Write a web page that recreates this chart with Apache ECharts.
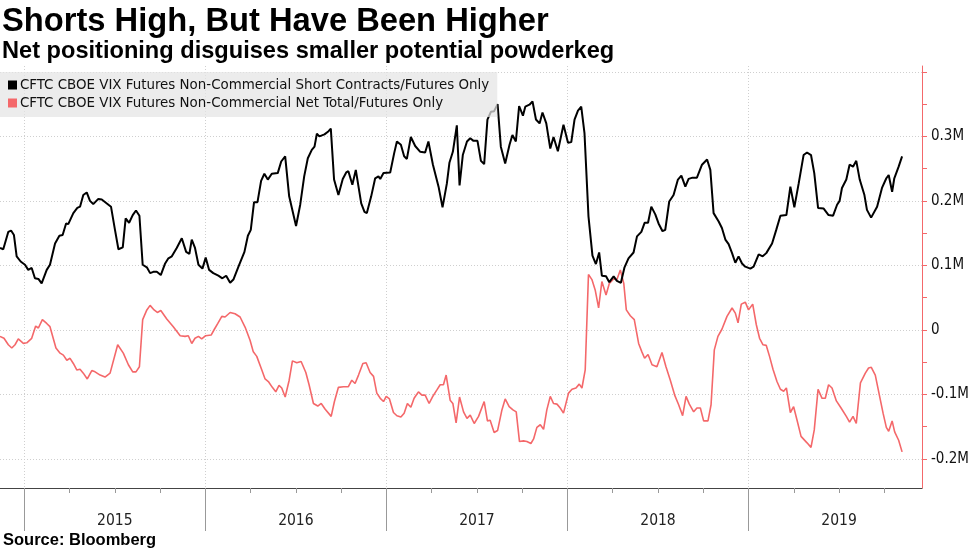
<!DOCTYPE html>
<html><head><meta charset="utf-8">
<script src="https://cdn.jsdelivr.net/npm/echarts@6/dist/echarts.min.js"></script>
<style>html,body{margin:0;padding:0;background:#fff}#c{width:977px;height:549px}</style>
</head><body><div id="c"></div>
<script>
// time in decimal years, values in thousands of contracts
const shortDates = [
2014.866,2014.884,2014.912,2014.927,2014.943,2014.958,2014.980,2015.004,2015.022,2015.041,
2015.059,2015.078,2015.096,2015.124,2015.142,2015.170,2015.194,2015.212,2015.231,2015.243,
2015.271,2015.293,2015.308,2015.326,2015.345,2015.363,2015.381,2015.409,2015.428,2015.456,
2015.479,2015.501,2015.520,2015.544,2015.560,2015.579,2015.599,2015.617,2015.636,2015.654,
2015.677,2015.695,2015.713,2015.732,2015.754,2015.778,2015.796,2015.815,2015.842,2015.870,
2015.894,2015.912,2015.925,2015.943,2015.962,2015.984,2016.002,2016.021,2016.044,2016.072,
2016.094,2016.115,2016.137,2016.155,2016.183,2016.216,2016.235,2016.251,2016.269,2016.288,
2016.308,2016.326,2016.345,2016.367,2016.400,2016.419,2016.441,2016.463,2016.501,2016.524,
2016.546,2016.566,2016.588,2016.603,2016.616,2016.630,2016.658,2016.677,2016.693,2016.711,
2016.735,2016.759,2016.778,2016.790,2016.812,2016.831,2016.861,2016.879,2016.892,2016.916,
2016.938,2016.956,2016.966,2016.984,2017.021,2017.043,2017.058,2017.080,2017.098,2017.113,
2017.135,2017.159,2017.187,2017.214,2017.232,2017.257,2017.288,2017.310,2017.334,2017.348,
2017.367,2017.389,2017.404,2017.422,2017.445,2017.463,2017.481,2017.503,2017.522,2017.540,
2017.558,2017.577,2017.595,2017.614,2017.632,2017.656,2017.680,2017.696,2017.715,2017.733,
2017.754,2017.767,2017.790,2017.807,2017.826,2017.846,2017.862,2017.883,2017.905,2017.923,
2017.947,2017.978,2018.003,2018.021,2018.039,2018.058,2018.076,2018.094,2018.116,2018.138,
2018.157,2018.175,2018.190,2018.213,2018.231,2018.255,2018.273,2018.295,2018.315,2018.337,
2018.365,2018.384,2018.408,2018.426,2018.445,2018.463,2018.485,2018.503,2018.525,2018.540,
2018.562,2018.586,2018.610,2018.629,2018.651,2018.669,2018.691,2018.715,2018.743,2018.771,
2018.789,2018.807,2018.835,2018.853,2018.872,2018.890,2018.909,2018.927,2018.945,2018.964,
2018.982,2019.010,2019.028,2019.056,2019.078,2019.098,2019.130,2019.153,2019.176,2019.209,
2019.231,2019.253,2019.277,2019.304,2019.323,2019.345,2019.363,2019.384,2019.415,2019.442,
2019.467,2019.489,2019.503,2019.516,2019.540,2019.558,2019.577,2019.595,2019.614,2019.640,
2019.654,2019.677,2019.710,2019.737,2019.761,2019.774,2019.793,2019.805,2019.829,2019.848
];
const shortValues = [
127,125,152,154,147,114,106,101,93,96,
80,79,72,93,101,134,146,147,165,164,
181,189,191,209,213,200,195,203,202,196,
191,155,125,128,173,166,178,185,177,101,
97,88,90,90,85,103,111,114,127,142,
121,118,140,127,101,95,112,93,88,84,
80,84,73,78,98,121,146,155,198,198,
231,242,233,242,243,261,269,207,161,194,
238,266,279,284,304,300,303,307,312,233,
209,234,244,246,225,248,196,183,181,207,
235,238,234,243,244,274,292,287,269,265,
299,285,276,275,292,256,222,190,227,259,
276,317,224,271,292,297,293,293,262,257,
326,338,339,350,284,258,287,302,292,347,
332,346,349,354,326,320,337,320,281,299,
277,318,290,291,326,340,346,305,176,115,
102,120,84,83,74,83,76,73,97,111,
120,145,152,166,166,191,179,165,153,155,
199,209,233,239,222,234,236,236,256,264,
248,181,168,158,140,133,119,104,114,103,
98,95,98,117,114,119,134,155,177,178,
222,190,227,271,275,271,243,189,188,178,
177,194,200,220,233,256,253,262,233,209,
186,174,191,220,235,240,214,235,253,269
];
const netDates = [
2014.866,2014.888,2014.912,2014.931,2014.949,2014.967,2014.995,2015.014,2015.041,2015.063,
2015.078,2015.100,2015.124,2015.142,2015.175,2015.198,2015.216,2015.235,2015.253,2015.271,
2015.290,2015.308,2015.326,2015.348,2015.373,2015.391,2015.419,2015.446,2015.474,2015.516,
2015.547,2015.575,2015.599,2015.617,2015.636,2015.654,2015.677,2015.695,2015.717,2015.735,
2015.754,2015.787,2015.823,2015.861,2015.888,2015.906,2015.925,2015.943,2015.962,2015.980,
2016.002,2016.032,2016.050,2016.069,2016.091,2016.109,2016.137,2016.164,2016.192,2016.220,
2016.247,2016.265,2016.284,2016.312,2016.330,2016.348,2016.370,2016.389,2016.407,2016.422,
2016.441,2016.463,2016.481,2016.505,2016.529,2016.555,2016.573,2016.597,2016.621,2016.640,
2016.662,2016.695,2016.713,2016.735,2016.763,2016.790,2016.809,2016.827,2016.846,2016.870,
2016.888,2016.910,2016.929,2016.947,2016.966,2016.984,2016.999,2017.017,2017.039,2017.058,
2017.080,2017.098,2017.116,2017.135,2017.153,2017.177,2017.196,2017.214,2017.236,2017.254,
2017.279,2017.297,2017.315,2017.330,2017.352,2017.367,2017.385,2017.404,2017.426,2017.445,
2017.463,2017.485,2017.509,2017.540,2017.558,2017.573,2017.595,2017.614,2017.638,2017.656,
2017.678,2017.699,2017.717,2017.735,2017.757,2017.776,2017.798,2017.813,2017.831,2017.850,
2017.868,2017.886,2017.905,2017.923,2017.942,2017.960,2017.978,2018.006,2018.025,2018.047,
2018.065,2018.080,2018.098,2018.116,2018.135,2018.153,2018.172,2018.190,2018.213,2018.231,
2018.255,2018.273,2018.292,2018.311,2018.325,2018.347,2018.369,2018.393,2018.411,2018.426,
2018.445,2018.467,2018.494,2018.522,2018.544,2018.568,2018.592,2018.614,2018.636,2018.655,
2018.673,2018.697,2018.715,2018.734,2018.752,2018.776,2018.793,2018.811,2018.831,2018.853,
2018.881,2018.909,2018.927,2018.942,2018.960,2018.982,2019.000,2019.023,2019.043,2019.061,
2019.080,2019.098,2019.116,2019.135,2019.157,2019.176,2019.194,2019.209,2019.231,2019.249,
2019.268,2019.290,2019.323,2019.345,2019.363,2019.384,2019.406,2019.424,2019.442,2019.461,
2019.485,2019.511,2019.540,2019.558,2019.577,2019.595,2019.618,2019.645,2019.663,2019.678,
2019.700,2019.724,2019.743,2019.761,2019.774,2019.793,2019.807,2019.829,2019.848
];
const netValues = [
-10,-13,-23,-28,-23,-14,-21,-20,-13,6,
3,16,10,5,-28,-36,-39,-47,-44,-52,
-62,-61,-67,-76,-63,-65,-70,-73,-67,-23,
-36,-54,-65,-65,-57,16,31,38,31,27,
30,17,5,-9,-10,-9,-21,-13,-10,-14,
-9,-8,1,10,21,20,27,25,20,4,
-16,-34,-41,-62,-76,-80,-89,-96,-86,-90,
-104,-78,-48,-51,-49,-66,-85,-114,-118,-114,
-123,-134,-111,-89,-88,-88,-78,-83,-70,-52,
-51,-66,-72,-98,-106,-111,-103,-107,-128,-133,
-135,-129,-114,-120,-106,-96,-101,-101,-114,-104,
-93,-85,-85,-70,-109,-114,-144,-104,-127,-137,
-132,-145,-134,-111,-141,-140,-159,-156,-124,-107,
-119,-124,-127,-173,-172,-173,-176,-169,-151,-147,
-154,-124,-103,-114,-115,-121,-129,-98,-92,-90,
-84,-90,-62,86,78,62,34,75,54,72,
79,78,93,72,31,22,16,-21,-34,-44,
-38,-54,-57,-35,-57,-78,-101,-116,-133,-103,
-115,-127,-121,-121,-141,-141,-116,-31,-10,1,
21,34,26,11,40,43,31,40,8,-13,
-23,-24,-41,-61,-80,-92,-95,-90,-128,-119,
-140,-165,-175,-182,-155,-92,-106,-106,-85,-90,
-110,-121,-134,-143,-134,-145,-82,-67,-59,-58,
-70,-103,-129,-151,-157,-141,-158,-171,-189
];
const seriesNames = [
  'CFTC CBOE VIX Futures Non-Commercial Short Contracts/Futures Only',
  'CFTC CBOE VIX Futures Non-Commercial Net Total/Futures Only'
];
const yearTicks = [2015, 2016, 2017, 2018, 2019];
const yearLabelPos = [2015.5, 2016.5, 2017.5, 2018.5, 2019.5];
const quarterTicks = [2015.25,2015.5,2015.75,2016.25,2016.5,2016.75,2017.25,2017.5,2017.75,
                      2018.25,2018.5,2018.75,2019.25,2019.5,2019.75];
const yTicks = [-200,-150,-100,-50,0,50,100,150,200,250,300,350,400];
const yLabels = [-200,-100,0,100,200,300];
const yGrid = [-200,-100,0,100,200,300,400];

const xMin = 2014.866, xMax = 2019.958, yMin = -245, yMax = 409;
const RED = '#f4686a';
const GRID_LINE = {color:'#cfcfcf', type:[1,2], width:1};

const chart = echarts.init(document.getElementById('c'), null, {renderer:'canvas'});
const pair = (xs, ys) => xs.map((x, i) => [x, ys[i]]);

chart.setOption({
  animation: false,
  backgroundColor: '#fff',
  title: [
    {text: 'Shorts High, But Have Been Higher', left: 2, top: 5, padding: 0, itemGap: 1,
     textStyle: {fontFamily: 'Liberation Sans', fontSize: 32.7, fontWeight: 'bold', color: '#000'},
     subtext: 'Net positioning disguises smaller potential powderkeg',
     subtextStyle: {fontFamily: 'Liberation Sans', fontSize: 23.6, fontWeight: 'bold', color: '#000'}},
    {text: 'Source: Bloomberg', left: 3, top: 532, padding: 0,
     textStyle: {fontFamily: 'Liberation Sans', fontSize: 16.5, fontWeight: 'bold', color: '#000'}}
  ],
  legend: {
    left: 0, top: 72, orient: 'vertical', icon: 'rect',
    itemWidth: 9, itemHeight: 9, itemGap: 2,
    padding: [5, 8, 6, 8],
    backgroundColor: 'rgba(228,228,228,0.72)',
    textStyle: {fontFamily: 'DejaVu Sans Condensed', fontSize: 14.9, lineHeight: 16, color: '#111', padding: [0, 0, 0, -2]},
    data: seriesNames
  },
  grid: {left: 0, right: 55, top: 66, bottom: 61, containLabel: false, outerBoundsMode: 'none'},
  xAxis: [
    {type: 'value', min: xMin, max: xMax, position: 'bottom',
     axisLine: {show: true, onZero: false, lineStyle: {color: '#444', width: 1}},
     axisTick: {show: true, customValues: yearTicks, length: 43, lineStyle: {color: '#999', width: 1}},
     axisLabel: {show: true, customValues: yearLabelPos, margin: 25,
       formatter: v => String(Math.floor(v)),
       fontFamily: 'DejaVu Sans Condensed', fontSize: 15.5, color: '#222'},
     splitLine: {show: true, lineStyle: GRID_LINE}},
    {type: 'value', min: xMin, max: xMax, position: 'bottom',
     axisLine: {show: false, onZero: false},
     axisTick: {show: true, customValues: quarterTicks, length: 5, lineStyle: {color: '#999', width: 1}},
     axisLabel: {show: false}, splitLine: {show: false}}
  ],
  yAxis: [
    {type: 'value', min: yMin, max: yMax, position: 'right',
     axisLine: {show: true, onZero: false, lineStyle: {color: RED, width: 1}},
     axisTick: {show: true, inside: false, customValues: yTicks, length: 5, lineStyle: {color: RED, width: 1}},
     axisLabel: {show: true, customValues: yLabels, margin: 9,
       formatter: v => v === 0 ? '0' : (v / 1000) + 'M',
       fontFamily: 'DejaVu Sans Condensed', fontSize: 15, color: '#111'},
     splitLine: {show: false}},
    {type: 'value', min: yMin, max: yMax, position: 'right',
     axisLine: {show: false, onZero: false},
     axisTick: {show: false, customValues: yGrid},
     axisLabel: {show: false},
     splitLine: {show: true, lineStyle: GRID_LINE}}
  ],
  series: [
    {name: seriesNames[0], type: 'line', xAxisIndex: 0, yAxisIndex: 0, z: 3,
     data: pair(shortDates, shortValues), symbol: 'none', showSymbol: false,
     lineStyle: {color: '#000', width: 2}, itemStyle: {color: '#000'}},
    {name: seriesNames[1], type: 'line', xAxisIndex: 0, yAxisIndex: 0, z: 2,
     data: pair(netDates, netValues), symbol: 'none', showSymbol: false,
     lineStyle: {color: RED, width: 1.6}, itemStyle: {color: RED}}
  ]
});
</script>
</body></html>
